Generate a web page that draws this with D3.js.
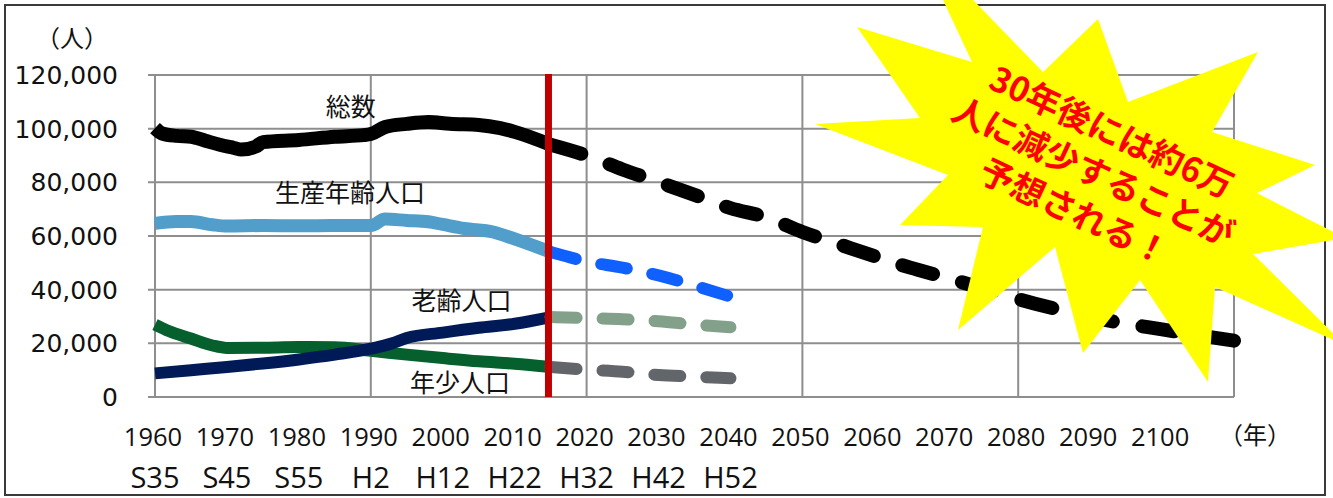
<!DOCTYPE html>
<html><head><meta charset="utf-8">
<script src="https://cdn.jsdelivr.net/npm/d3@7"></script>
<style>
body{margin:0;background:#fff;}
svg{display:block;}
</style>
</head><body>
<svg id="chart" width="1333" height="498"></svg>
<script>
// ---- data ----
const totalHistYears  = [1960,1961,1963,1965,1967,1969,1971,1972,1974,1975,1980,1985,1989,1990,1992,1995,1998,2001,2005,2008,2010,2015];
const totalHistValues = [100200,98200,97300,97000,95500,94000,92800,92200,93300,95000,95800,97000,97600,98000,100600,101800,102500,101800,101400,100200,98800,94000];
const totalProjYears  = [2015,2020,2025,2030,2035,2040,2045,2050,2055,2060,2065,2070,2075,2080,2085,2090,2095,2100,2105,2110];
const totalProjValues = [94000,90000,84800,80100,75300,70400,67000,61500,57000,52500,48200,44500,40500,36500,33000,29800,27300,25200,23000,21000];

const workHistYears  = [1960,1963,1965,1968,1970,1975,1980,1985,1990,1992,1995,1998,2000,2003,2007,2009,2015];
const workHistValues = [64700,65400,65400,64200,63700,63900,63800,63900,63900,66300,65800,65300,64300,62800,61500,59800,54000];
const workProjYears  = [2015,2020,2025,2030,2035,2040];
const workProjValues = [54000,50500,48200,45300,41500,37400];

const oldHistYears  = [1960,1965,1970,1975,1980,1985,1990,1993,1995,2000,2005,2010,2015];
const oldHistValues = [8800,10000,11200,12500,14000,15800,18000,20000,22000,24000,25800,27300,29800];
const oldProjYears  = [2015,2020,2025,2030,2035,2040];
const oldProjValues = [29800,29400,29000,28200,27000,26000];

const youngHistYears  = [1960,1962,1965,1968,1970,1975,1980,1985,1990,1995,2000,2005,2010,2015];
const youngHistValues = [27000,24500,21800,19200,18300,18400,18600,18500,17200,15800,14500,13300,12400,11200];
const youngProjYears  = [2015,2020,2025,2030,2035,2040];
const youngProjValues = [11200,10200,9400,8200,7600,7000];

const dividerYear = 2014.7;
const yTicks = [0,20000,40000,60000,80000,100000,120000];
const gridYears = [1960,1990,2020,2050,2080,2110];
const yearTicks = [1960,1970,1980,1990,2000,2010,2020,2030,2040,2050,2060,2070,2080,2090,2100];
const eraYears  = [1960,1970,1980,1990,2000,2010,2020,2030,2040];
const eraLabels = ["S35","S45","S55","H2","H12","H22","H32","H42","H52"];
const seriesLabels = [
  {text:"総数", year:1987.2, value:108000},
  {text:"生産年齢人口", year:1987.1, value:76000},
  {text:"老齢人口", year:2002.6, value:35800},
  {text:"年少人口", year:2002.4, value:5200}
];
const calloutLines = ["30年後には約6万","人に減少することが","予想される！"];

// ---- drawing ----
const svg = d3.select("#chart");
const x = d3.scaleLinear().domain([1960,2110]).range([155,1234]);
const y = d3.scaleLinear().domain([0,120000]).range([397,75]);
const zip = (ys, vs) => ys.map((yr,i)=>({year:yr, value:vs[i]}));
const line = d3.line().x(d=>x(d.year)).y(d=>y(d.value)).curve(d3.curveMonotoneX);

const GRID = "#8e8e8e";
const grid = svg.append("g");
grid.selectAll("line.h").data(yTicks).join("line")
  .attr("x1", x(1960)-7).attr("x2", x(2110))
  .attr("y1", d=>y(d)).attr("y2", d=>y(d))
  .attr("stroke", GRID).attr("stroke-width", 2);
grid.selectAll("line.v").data(gridYears).join("line")
  .attr("x1", d=>x(d)).attr("x2", d=>x(d))
  .attr("y1", y(0)).attr("y2", y(120000))
  .attr("stroke", GRID).attr("stroke-width", 2);

// y labels
svg.append("g").selectAll("text").data(yTicks).join("text")
  .attr("x", 118).attr("y", d=>y(d)).attr("dy","0.36em")
  .attr("text-anchor","end")
  .style("font-family","'DejaVu Sans', Verdana, sans-serif").style("font-size","25px").attr("fill","#111")
  .text(d=>d3.format(",")(d));

svg.append("text").attr("x",72).attr("y",38).attr("dy","0.36em").attr("text-anchor","middle")
  .style("font-family","'Noto Sans CJK JP', sans-serif").style("font-size","24px").attr("fill","#111").text("（人）");

// x labels
svg.append("g").selectAll("text").data(yearTicks).join("text")
  .attr("x", d=>x(d)-2).attr("y",437).attr("dy","0.36em")
  .attr("text-anchor","middle")
  .style("font-family","'Open Sans', sans-serif").style("font-size","25.5px").attr("fill","#111")
  .text(d=>d);
svg.append("g").selectAll("text").data(eraYears).join("text")
  .attr("x", d=>x(d)).attr("y",478).attr("dy","0.36em")
  .attr("text-anchor","middle")
  .style("font-family","'Open Sans', sans-serif").style("font-size","29px").attr("fill","#111")
  .text((d,i)=>eraLabels[i]);
svg.append("text").attr("x",1255).attr("y",435).attr("dy","0.36em").attr("text-anchor","middle")
  .style("font-family","'Noto Sans CJK JP', sans-serif").style("font-size","24px").attr("fill","#111").text("（年）");

// historical series
const hist = [
  {d:zip(youngHistYears,youngHistValues), c:"#05602e", w:12},
  {d:zip(oldHistYears,oldHistValues), c:"#001a57", w:12},
  {d:zip(workHistYears,workHistValues), c:"#519ecb", w:13},
  {d:zip(totalHistYears,totalHistValues), c:"#000000", w:14}
];
svg.append("g").selectAll("path").data(hist).join("path")
  .attr("d", s=>line(s.d)).attr("fill","none")
  .attr("stroke", s=>s.c).attr("stroke-width", s=>s.w)
  .attr("stroke-linejoin","round").attr("stroke-linecap","butt");

// projections
const proj = [
  {d:zip(youngProjYears,youngProjValues), c:"#626569", w:12, dash:"26,26"},
  {d:zip(oldProjYears,oldProjValues), c:"#82a08a", w:12, dash:"26,26"},
  {d:zip(workProjYears,workProjValues), c:"#1060ff", w:12, dash:"26,26"},
  {d:zip(totalProjYears,totalProjValues), c:"#000000", w:14, dash:"32,30"}
];
svg.append("g").selectAll("path").data(proj).join("path")
  .attr("d", s=>line(s.d)).attr("fill","none")
  .attr("stroke", s=>s.c).attr("stroke-width", s=>s.w)
  .attr("stroke-dasharray", s=>s.dash)
  .attr("stroke-linecap","round").attr("stroke-linejoin","round");

// divider
svg.append("line").attr("x1",x(dividerYear)).attr("x2",x(dividerYear))
  .attr("y1",y(0)).attr("y2",y(120000)-1)
  .attr("stroke","#c00000").attr("stroke-width",7);

// series labels
svg.append("g").selectAll("text").data(seriesLabels).join("text")
  .attr("x", d=>x(d.year)).attr("y", d=>y(d.value)).attr("dy","0.36em")
  .attr("text-anchor","middle")
  .style("font-family","'Noto Sans CJK JP', sans-serif").style("font-size","25px").attr("fill","#111")
  .text(d=>d.text);

// frame
svg.append("rect").attr("x",5).attr("y",5).attr("width",1320).attr("height",490)
  .attr("fill","none").attr("stroke","#3a3a3a").attr("stroke-width",2);

// starburst callout
const burst = [[915,-60],[1043,72],[1098,19],[1128,102],[1258,52],[1212,132],[1315,165],[1257,193],
  [1345,238],[1253,254],[1345,345],[1215,287],[1208,382],[1140,280],[1083,353],[1055,247],
  [958,330],[983,227],[900,225],[948,175],[815,124],[920,118],[857,27],[972,62]];
svg.append("polygon").attr("points", burst.map(p=>p.join(",")).join(" "))
  .attr("fill","#ffff00");
const cg = svg.append("g").attr("transform","translate(1093,172) rotate(25)");
cg.selectAll("text").data(calloutLines).join("text")
  .attr("x",0).attr("y",(d,i)=>(i-1)*44).attr("dy","0.36em")
  .attr("text-anchor","middle")
  .style("font-family","'Noto Sans CJK JP', sans-serif").style("font-weight","700").style("font-size","34px")
  .attr("fill","#ff0000").text(d=>d);
</script>
</body></html>
